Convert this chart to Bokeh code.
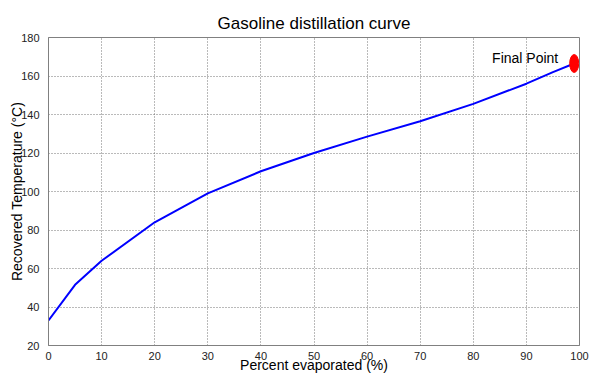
from bokeh.plotting import figure
from bokeh.models import Range1d, FixedTicker, Label
from bokeh.embed import file_html
from bokeh.resources import INLINE

# data
percent_evaporated = [0, 5, 10, 20, 30, 40, 50, 60, 70, 80, 90, 95, 99]
recovered_temp = [33, 51.5, 64, 84, 99, 110.5, 120, 128.5, 136.5, 145.5, 156, 162, 166.5]
final_x = [99]
final_y = [166.5]
x_ticks = [0, 10, 20, 30, 40, 50, 60, 70, 80, 90, 100]
y_ticks = [20, 40, 60, 80, 100, 120, 140, 160, 180]

FONT = "Liberation Sans"

p = figure(frame_width=531, frame_height=308, output_backend="svg", toolbar_location=None,
           x_range=Range1d(0, 100), y_range=Range1d(20, 180),
           min_border_left=48, min_border_right=10, min_border_top=37, min_border_bottom=31)

p.title.text = "Gasoline distillation curve"
p.title.align = "center"
p.title.text_font = FONT
p.title.text_font_size = "17px"
p.title.text_font_style = "normal"
p.title.text_color = "#000000"
p.title.standoff = 10

p.outline_line_color = "#808080"
p.background_fill_color = "white"
p.border_fill_color = "white"

for ax in (p.xaxis, p.yaxis):
    ax.axis_line_color = "#808080"
    ax.major_tick_line_color = None
    ax.minor_tick_line_color = None
    ax.major_label_text_font = FONT
    ax.major_label_text_font_size = "11px"
    ax.major_label_text_color = "#222222"
    ax.axis_label_text_font = FONT
    ax.axis_label_text_font_size = "14px"
    ax.axis_label_text_font_style = "normal"
    ax.axis_label_text_color = "#000000"

p.xaxis.ticker = FixedTicker(ticks=x_ticks)
p.yaxis.ticker = FixedTicker(ticks=y_ticks)
p.xaxis.axis_label = "Percent evaporated (%)"
p.yaxis.axis_label = "Recovered Temperature (°C)"
p.xaxis.major_label_standoff = 0
p.yaxis.major_label_standoff = 3
p.xaxis.axis_label_standoff = -6
p.yaxis.axis_label_standoff = -7

for g in (p.xgrid, p.ygrid):
    g.grid_line_color = "#666666"
    g.grid_line_dash = "1 2"
    g.grid_line_width = 1
    g.grid_line_alpha = 0.9

p.line(percent_evaporated, recovered_temp, line_color="#0000ff", line_width=2)
p.ellipse(x=final_x, y=final_y, width=9, height=18, width_units="screen", height_units="screen",
          fill_color="#ff0000", line_color="#ff0000")

lbl = Label(x=96, y=169.5, text="Final Point", text_font=FONT, text_font_size="14px",
            text_align="right", text_baseline="middle", text_color="#000000")
p.add_layout(lbl)

open("out.html", "w").write(file_html(p, INLINE))
